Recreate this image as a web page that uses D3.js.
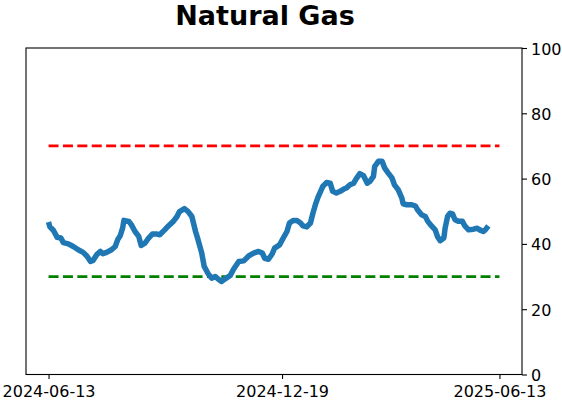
<!DOCTYPE html>
<html lang="en">
<head>
  <meta charset="UTF-8">
  <script src="https://d3js.org/d3.v7.min.js"></script>
  <title>Natural Gas</title>
  <style>
    body { margin: 0; background: #fff; }
    svg { display: block; font-family: "DejaVu Sans", sans-serif; }
  </style>
</head>
<body>
  <svg width="562" height="402"></svg>
  <script>
    // values
    const dates = [
      "2024-06-13","2024-06-14","2024-06-17","2024-06-20","2024-06-23","2024-06-25","2024-06-29",
      "2024-07-03","2024-07-07","2024-07-11","2024-07-14","2024-07-17","2024-07-19","2024-07-22",
      "2024-07-25","2024-07-27","2024-07-30","2024-08-03","2024-08-06","2024-08-08","2024-08-10",
      "2024-08-12","2024-08-13","2024-08-17","2024-08-19","2024-08-22","2024-08-25","2024-08-27",
      "2024-08-30","2024-09-02","2024-09-05","2024-09-09","2024-09-11","2024-09-15","2024-09-18",
      "2024-09-22","2024-09-25","2024-09-27","2024-10-01","2024-10-04","2024-10-07","2024-10-10",
      "2024-10-12","2024-10-15","2024-10-17","2024-10-20","2024-10-23","2024-10-26","2024-10-28",
      "2024-10-31","2024-11-03","2024-11-07","2024-11-10","2024-11-14","2024-11-18","2024-11-22",
      "2024-11-26","2024-11-30","2024-12-03","2024-12-05","2024-12-08","2024-12-11","2024-12-13",
      "2024-12-17","2024-12-20","2024-12-23","2024-12-25","2024-12-28","2024-12-31","2025-01-03",
      "2025-01-05","2025-01-08","2025-01-11","2025-01-13","2025-01-15","2025-01-17","2025-01-21",
      "2025-01-24","2025-01-27","2025-01-29","2025-02-01","2025-02-04","2025-02-07","2025-02-09",
      "2025-02-12","2025-02-15","2025-02-17","2025-02-20","2025-02-23","2025-02-26","2025-02-28",
      "2025-03-03","2025-03-04","2025-03-07","2025-03-10","2025-03-12","2025-03-15","2025-03-18",
      "2025-03-20","2025-03-23","2025-03-26","2025-03-27","2025-03-30","2025-04-03","2025-04-06",
      "2025-04-08","2025-04-11","2025-04-14","2025-04-16","2025-04-19","2025-04-22","2025-04-24",
      "2025-04-26","2025-04-29","2025-04-30","2025-05-02","2025-05-04","2025-05-06","2025-05-08",
      "2025-05-11","2025-05-14","2025-05-16","2025-05-19","2025-05-23","2025-05-26","2025-05-28",
      "2025-05-31","2025-06-02","2025-06-04"
    ];
    const values = [
      46.7,45.3,44.1,42.0,41.8,40.4,40.0,
      39.2,38.2,37.4,36.3,34.6,34.9,36.7,
      37.7,37.0,37.4,38.2,39.2,41.3,42.5,
      44.9,47.2,46.9,45.9,43.8,42.3,39.5,
      40.2,41.8,43.0,43.0,42.8,44.3,45.5,
      46.9,48.4,49.9,50.8,49.9,48.4,43.8,
      41.3,37.2,33.1,31.0,29.5,30.0,29.3,
      28.5,29.3,30.3,32.4,34.6,34.8,36.3,
      37.2,37.7,37.2,35.6,35.3,36.9,38.7,
      39.7,41.8,43.8,46.4,47.2,47.2,46.4,
      45.5,45.2,46.4,49.4,52.0,54.2,57.6,
      58.8,58.6,56.1,55.6,56.1,56.8,57.1,
      58.1,58.6,59.9,61.5,60.9,58.6,59.1,
      60.7,63.7,65.3,65.3,63.3,61.7,60.2,
      58.1,56.6,54.0,52.3,52.0,52.0,51.6,
      50.3,48.9,48.4,46.9,45.5,44.3,42.1,
      41.0,41.8,44.8,48.4,49.4,49.2,47.4,
      46.9,46.9,45.5,44.3,44.5,44.8,44.3,
      43.8,44.5,45.5
    ];
    const xTickLabels = ["2024-06-13", "2024-12-19", "2025-06-13"];
    const yTicks = [0, 20, 40, 60, 80, 100];
    const upperLevel = 70;
    const lowerLevel = 30;
    const titleText = "Natural Gas";

    const parse = d3.timeParse("%Y-%m-%d");
    const series = dates.map((d, i) => ({date: parse(d), value: values[i]}));

    // plot box
    const plotL = 26, plotR = 522, plotT = 48, plotB = 374.5;
    const svg = d3.select("svg");

    // x range: first tick to last tick, with 5% margin either side
    const t0 = parse(xTickLabels[0]), t1 = parse(xTickLabels[xTickLabels.length - 1]);
    const pad = (t1 - t0) * 0.05;
    const x = d3.scaleTime()
      .domain([new Date(+t0 - pad), new Date(+t1 + pad)])
      .range([plotL, plotR]);
    const y = d3.scaleLinear().domain([0, 100]).range([plotB, plotT]);

    // threshold lines
    const levels = [{v: upperLevel, c: "#ff0000"}, {v: lowerLevel, c: "#008000"}];
    svg.selectAll("line.level")
      .data(levels)
      .enter()
      .append("line")
      .attr("class", "level")
      .attr("x1", x(t0)).attr("x2", x(t1))
      .attr("y1", d => y(d.v)).attr("y2", d => y(d.v))
      .attr("stroke", d => d.c)
      .attr("stroke-width", 2.7)
      .attr("stroke-dasharray", "10,4.4");

    // main line
    const line = d3.line().x(d => x(d.date)).y(d => y(d.value));
    svg.append("path")
      .datum(series)
      .attr("d", line)
      .attr("fill", "none")
      .attr("stroke", "#1f77b4")
      .attr("stroke-width", 5.5)
      .attr("stroke-linejoin", "round")
      .attr("stroke-linecap", "butt");

    // frame
    svg.append("rect")
      .attr("x", plotL).attr("y", plotT)
      .attr("width", plotR - plotL).attr("height", plotB - plotT)
      .attr("fill", "none").attr("stroke", "#000").attr("stroke-width", 1.1);

    // axes
    const xAxis = d3.axisBottom(x)
      .tickValues(xTickLabels.map(parse))
      .tickFormat(d3.timeFormat("%Y-%m-%d"))
      .tickSize(4.5).tickPadding(6.5);
    const gx = svg.append("g")
      .attr("transform", `translate(0,${plotB})`)
      .call(xAxis);

    const yAxis = d3.axisRight(y).tickValues(yTicks).tickSize(5).tickPadding(4);
    const gy = svg.append("g")
      .attr("transform", `translate(${plotR},0)`)
      .call(yAxis);
    gy.selectAll("text").attr("dy", "0.38em");

    [gx, gy].forEach(g => {
      g.select(".domain").remove();
      g.selectAll("line").attr("stroke", "#000").attr("stroke-width", 1.1);
      g.selectAll("text")
        .attr("fill", "#000")
        .style("font-family", "'DejaVu Sans', sans-serif")
        .style("font-size", "16px");
    });

    // title
    svg.append("text")
      .attr("x", 265).attr("y", 25)
      .attr("text-anchor", "middle")
      .style("font-family", "'DejaVu Sans', sans-serif")
      .style("font-size", "27px")
      .style("font-weight", "bold")
      .text(titleText);
  </script>
</body>
</html>
